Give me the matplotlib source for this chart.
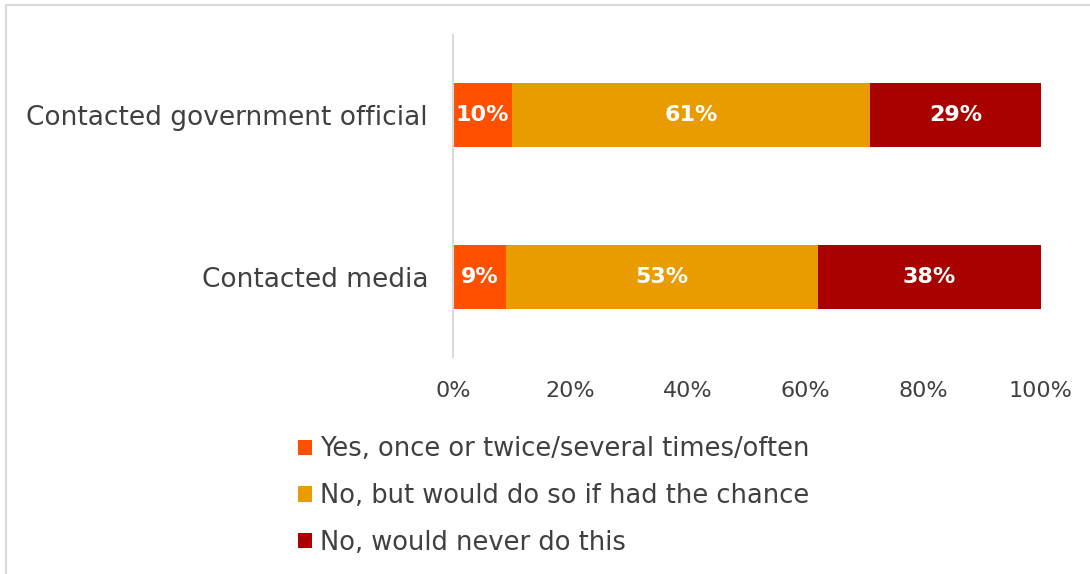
import matplotlib
matplotlib.use("Agg")
import matplotlib.pyplot as plt
from matplotlib.lines import Line2D
from matplotlib.patches import Patch

plt.rcParams['font.family'] = ['DejaVu Sans']

categories = ["Contacted government official", "Contacted media"]
series_names = [
    "Yes, once or twice/several times/often",
    "No, but would do so if had the chance",
    "No, would never do this",
]
yes_vals = [10, 9]
would_vals = [61, 53]
never_vals = [29, 38]
tick_labels = ["0%", "20%", "40%", "60%", "80%", "100%"]
colors = ["#FF5000", "#E89C00", "#A90000"]
text_color = "#404040"

fig = plt.figure(figsize=(10.9, 5.74), dpi=100)
ax = fig.add_axes([0.4156, 0.378, 0.5394, 0.561])

ypos = [0, 1]
series = [yes_vals, would_vals, never_vals]
left = [0, 0]
for vals, name, col in zip(series, series_names, colors):
    bars = ax.barh(ypos, vals, left=left, height=0.395, color=col, label=name)
    for b, v in zip(bars, vals):
        ax.text(b.get_x() + b.get_width() / 2, b.get_y() + b.get_height() / 2,
                f"{v}%", ha="center", va="center", color="white",
                fontsize=16, fontweight="bold")
    left = [l + v for l, v in zip(left, vals)]

ax.set_xlim(0, 100)
ax.set_ylim(1.494, -0.494)
ax.set_yticks(ypos)
ax.set_yticklabels(categories, fontsize=19, color=text_color)
ax.set_xticks([0, 20, 40, 60, 80, 100])
ax.set_xticklabels(tick_labels, fontsize=16, color=text_color)
ax.tick_params(axis="both", length=0)
ax.tick_params(axis="y", pad=18)
ax.tick_params(axis="x", pad=17)
for s in ["top", "right", "bottom"]:
    ax.spines[s].set_visible(False)
ax.spines["left"].set_color("#D9D9D9")
ax.spines["left"].set_linewidth(1.5)

handles = [Patch(facecolor=c, edgecolor="none") for c in colors]
leg = fig.legend(handles, series_names, loc="upper left",
                 bbox_to_anchor=(0.2617, 0.262), frameon=False,
                 fontsize=18.5, labelspacing=0.8, handlelength=0.55,
                 handleheight=0.55, handletextpad=0.3, borderpad=0)
for t in leg.get_texts():
    t.set_color(text_color)

# light frame along top and left edges
fig.add_artist(Line2D([6 / 1090, 1.0], [1 - 5 / 574, 1 - 5 / 574],
                      transform=fig.transFigure, color="#D9D9D9", lw=1.5))
fig.add_artist(Line2D([6 / 1090, 6 / 1090], [0, 1 - 5 / 574],
                      transform=fig.transFigure, color="#D9D9D9", lw=1.5))

fig.savefig("out.png", dpi=100)
